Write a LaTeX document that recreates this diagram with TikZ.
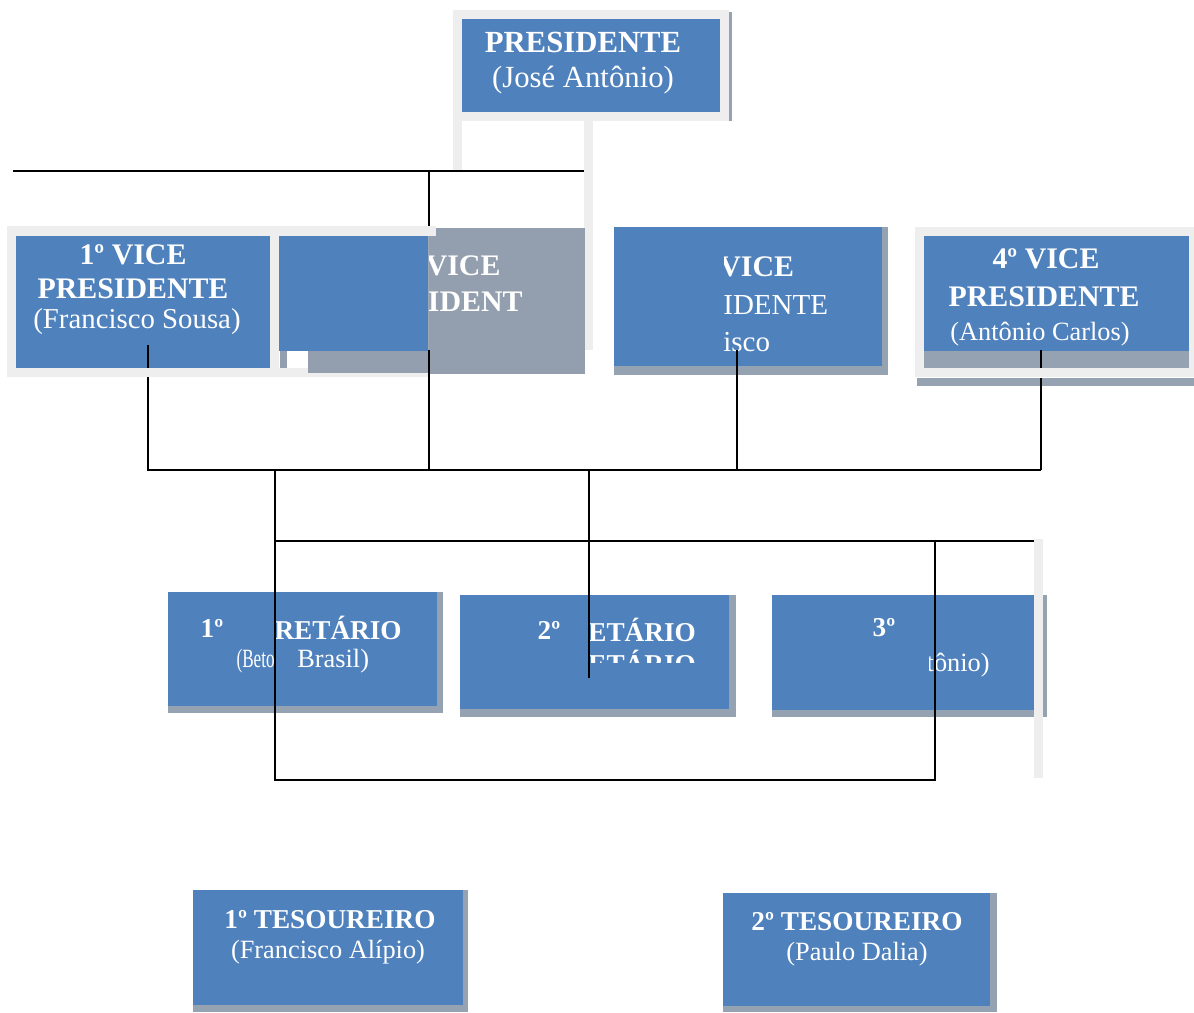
\documentclass[tikz,border=0pt]{standalone}
\usepackage{fontspec}
\setmainfont{Liberation Serif}
\usepackage{xcolor}
\definecolor{boxblue}{HTML}{4F81BD}
\definecolor{shadegray}{HTML}{95A2B2}
\definecolor{framegray}{HTML}{EEEEEE}
\definecolor{boxgray}{HTML}{939FAE}
\tikzset{
  ttl/.style={inner sep=0pt,text=white,font=\bfseries\fontsize{17}{20}\selectfont},
  sttl/.style={inner sep=0pt,text=white,font=\bfseries\fontsize{15.5}{18}\selectfont},
  nme/.style={inner sep=0pt,text=white,font=\fontsize{15}{18}\selectfont},
  link/.style={black,line width=1.1pt}
}
\begin{document}
\begin{tikzpicture}[x=0.02cm,y=-0.02cm]
\useasboundingbox (0,0) rectangle (1194,1012);
% presidente
\fill [framegray] (453,10) rectangle (729,121);
\fill [shadegray] (729,12) rectangle (732,121);
\fill [boxblue] (462,19) rectangle (720,112);
\fill [framegray] (453,121) rectangle (462,170);
\fill [framegray] (584,121) rectangle (593,350);
\node [ttl,font=\bfseries\fontsize{17.5}{20}\selectfont] (pres) at (583,42) {PRESIDENTE};
\node [nme,font=\fontsize{17.5}{20}\selectfont] (presn) at (583,80) {(José Antônio)};
% vices
\fill [boxgray] (280,228) rectangle (585,374);
\fill [framegray,even odd rule] (7,226) rectangle (428,377) (16,236) rectangle (427,368);
\fill [framegray] (428,226) rectangle (436,236);
\fill [framegray] (270,236) rectangle (279,368);
\fill [boxgray] (308,351) rectangle (436,373);
\fill [white] (287,351) rectangle (308,368);
\fill [boxblue] (16,236) rectangle (270,368);
\fill [boxblue] (279,236) rectangle (428,351);
\node [ttl] (vpa) at (133,255) {1º VICE};
\node [ttl] (vpat) at (133,289) {PRESIDENTE};
\node [nme,font=\fontsize{16.4}{19}\selectfont] (vpan) at (137,322) {(Francisco Sousa)};
\begin{scope}
\clip (429,236) rectangle (522,340);
\node [ttl] (vpb) at (447,266) {2º VICE};
\node [ttl] (vpbt) at (447,302) {PRESIDENTE};
\end{scope}
\fill [shadegray] (614,227) rectangle (888,375);
\fill [boxblue] (614,227) rectangle (882,366);
\begin{scope}
\clip (724,227) rectangle (882,366);
\node [ttl,anchor=west] (vpc) at (719,267) {VICE};
\end{scope}
\node [nme,font=\fontsize{16.5}{19}\selectfont,anchor=west] (vpct) at (723,305) {IDENTE};
\node [nme,font=\fontsize{16.5}{19}\selectfont,anchor=west] (vpcn) at (723,342) {isco};
\fill [framegray] (915,227) rectangle (1194,377);
\fill [boxblue] (924,236) rectangle (1189,351);
\fill [shadegray] (924,351) rectangle (1189,368);
\fill [shadegray] (917,378) rectangle (1194,386);
\node [ttl] (vpd) at (1046,259) {4º VICE};
\node [ttl] (vpdt) at (1044,297) {PRESIDENTE};
\node [nme] (vpdn) at (1040,334) {(Antônio Carlos)};
% secretarios
\fill [shadegray] (168,592) rectangle (443,713);
\fill [boxblue] (168,592) rectangle (437,706);
\node [sttl] (sca) at (212,628) {1º};
\begin{scope}
\clip (275,592) rectangle (437,706);
\node [sttl,anchor=east] (scat) at (402,628) {SECRETÁRIO};
\end{scope}
\node [nme,anchor=east] (scan) at (275,661) {\scalebox{0.65}[1]{(Beto}};
\node [nme,anchor=west] (scan2) at (297,661) {Brasil)};
\fill [shadegray] (460,595) rectangle (736,717);
\fill [boxblue] (460,595) rectangle (729,709);
\node [sttl] (scb) at (549,630) {2º};
\begin{scope}
\clip (589,595) rectangle (729,662);
\node [sttl,anchor=west] (scbt) at (588,630) {ETÁRIO};
\node [sttl,anchor=west] (scbu) at (588,662) {ETÁRIO};
\end{scope}
\fill [shadegray] (772,595) rectangle (1047,717);
\fill [boxblue] (772,595) rectangle (1034,710);
\fill [framegray] (1034,539) rectangle (1043,778);
\node [sttl] (scc) at (884,628) {3º};
\begin{scope}
\clip (929,595) rectangle (1034,710);
\node [nme,anchor=east] (sccn) at (990,665) {(Antônio)};
\end{scope}
% tesoureiros
\fill [shadegray] (193,890) rectangle (468,1012);
\fill [boxblue] (193,890) rectangle (463,1005);
\node [sttl] (tsa) at (330,920) {1º TESOUREIRO};
\node [nme] (tsan) at (328,952) {(Francisco Alípio)};
\fill [shadegray] (723,893) rectangle (997,1012);
\fill [boxblue] (723,893) rectangle (990,1006);
\node [sttl] (tsb) at (857,922) {2º TESOUREIRO};
\node [nme] (tsbn) at (857,954) {(Paulo Dalia)};
% ligacoes
\coordinate (t0) at (13,171);
\coordinate (t1) at (429,171);
\coordinate (t2) at (584,171);
\coordinate (t3) at (429,226);
\coordinate (v1a) at (148,345);
\coordinate (v1b) at (148,368);
\coordinate (v1c) at (148,377);
\coordinate (v2a) at (429,350);
\coordinate (v3a) at (737,350);
\coordinate (v4a) at (1041,350);
\coordinate (v4b) at (1041,368);
\coordinate (v4c) at (1041,378);
\coordinate (b1) at (148,470);
\coordinate (b2) at (429,470);
\coordinate (b3) at (737,470);
\coordinate (b4) at (1041,470);
\coordinate (b0) at (275,470);
\coordinate (b5) at (589,470);
\coordinate (s0) at (275,541);
\coordinate (s1) at (935,541);
\coordinate (s2) at (1034,541);
\coordinate (s3) at (275,780);
\coordinate (s4) at (935,780);
\coordinate (s5) at (589,678);
\draw [link] (t0) -- (t2);
\draw [link] (t1) -- (t3);
\draw [link] (v1a) -- (v1b);
\draw [link] (v1c) -- (b1) -- (b4);
\draw [link] (v2a) -- (b2);
\draw [link] (v3a) -- (b3);
\draw [link] (v4a) -- (v4b);
\draw [link] (v4c) -- (b4);
\draw [link] (b0) -- (s3) -- (s4) -- (s1);
\draw [link] (s0) -- (s2);
\draw [link] (b5) -- (s5);
\end{tikzpicture}
\end{document}
